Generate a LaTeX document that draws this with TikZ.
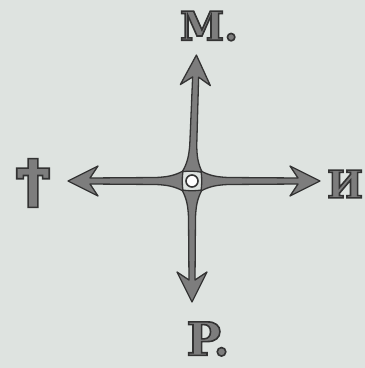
\documentclass[tikz,border=0pt]{standalone}
\usepackage{fontspec}
\setmainfont{DejaVu Serif}
\newfontfamily\copticfont{DejaVu Sans}
\definecolor{paper}{RGB}{222,227,224}
\definecolor{ink}{RGB}{52,52,52}
\definecolor{lead}{RGB}{125,125,125}
% letters with a dark rim round a grey body
\newcommand{\rimmed}[1]{%
  \special{pdf:literal direct 2 Tr 1.6 w 0.2 0.2 0.2 RG}#1%
  \special{pdf:literal direct 0 Tr}}
% one tapered ray out of the hub: angle, length
\newcommand{\ray}[2]{%
  \begin{scope}[shift={(hub.center)},rotate=#1]
    \draw[shaft] (9,-10) .. controls (18,-5) and (26,-4) .. (36,-3.5)
      -- ({#2-22},-3) -- ({#2-30},-15) -- (#2,0) -- ({#2-30},15)
      -- ({#2-22},3) -- (36,3.5) .. controls (26,4) and (18,5) .. (9,10)
      .. controls (10,3) and (10,-3) .. cycle;
  \end{scope}}

\begin{document}
\begin{tikzpicture}[x=1pt,y=1pt,
  shaft/.style={fill=lead,draw=ink,line width=1.3pt,line join=round},
  hub/.style={circle,draw=ink,line width=1.6pt,fill=white,
    minimum size=12pt,inner sep=0pt},
  letter/.style={inner sep=0pt,text=lead,
    font=\fontsize{40}{40}\selectfont\bfseries}]
  \useasboundingbox (0,0) rectangle (365,368);
  \fill[paper] (0,0) rectangle (365,368);

  \node[hub] (hub) at (192,187) {};

  \node[letter] (north) at (209,342) {\rimmed{M.}};
  \node[letter,font=\fontsize{52}{52}\selectfont\copticfont\bfseries]
    (west) at (33,185) {\rimmed{Ϯ}};
  \node[letter,font=\fontsize{38}{38}\selectfont\bfseries]
    (east) at (345,184) {\rimmed{И}};
  \node[letter,font=\fontsize{46}{46}\selectfont\bfseries]
    (south) at (208,29) {\rimmed{P.}};

  \ray{88}{126}
  \ray{270}{121}
  \ray{180}{124}
  \ray{0}{128}
\end{tikzpicture}
\end{document}
